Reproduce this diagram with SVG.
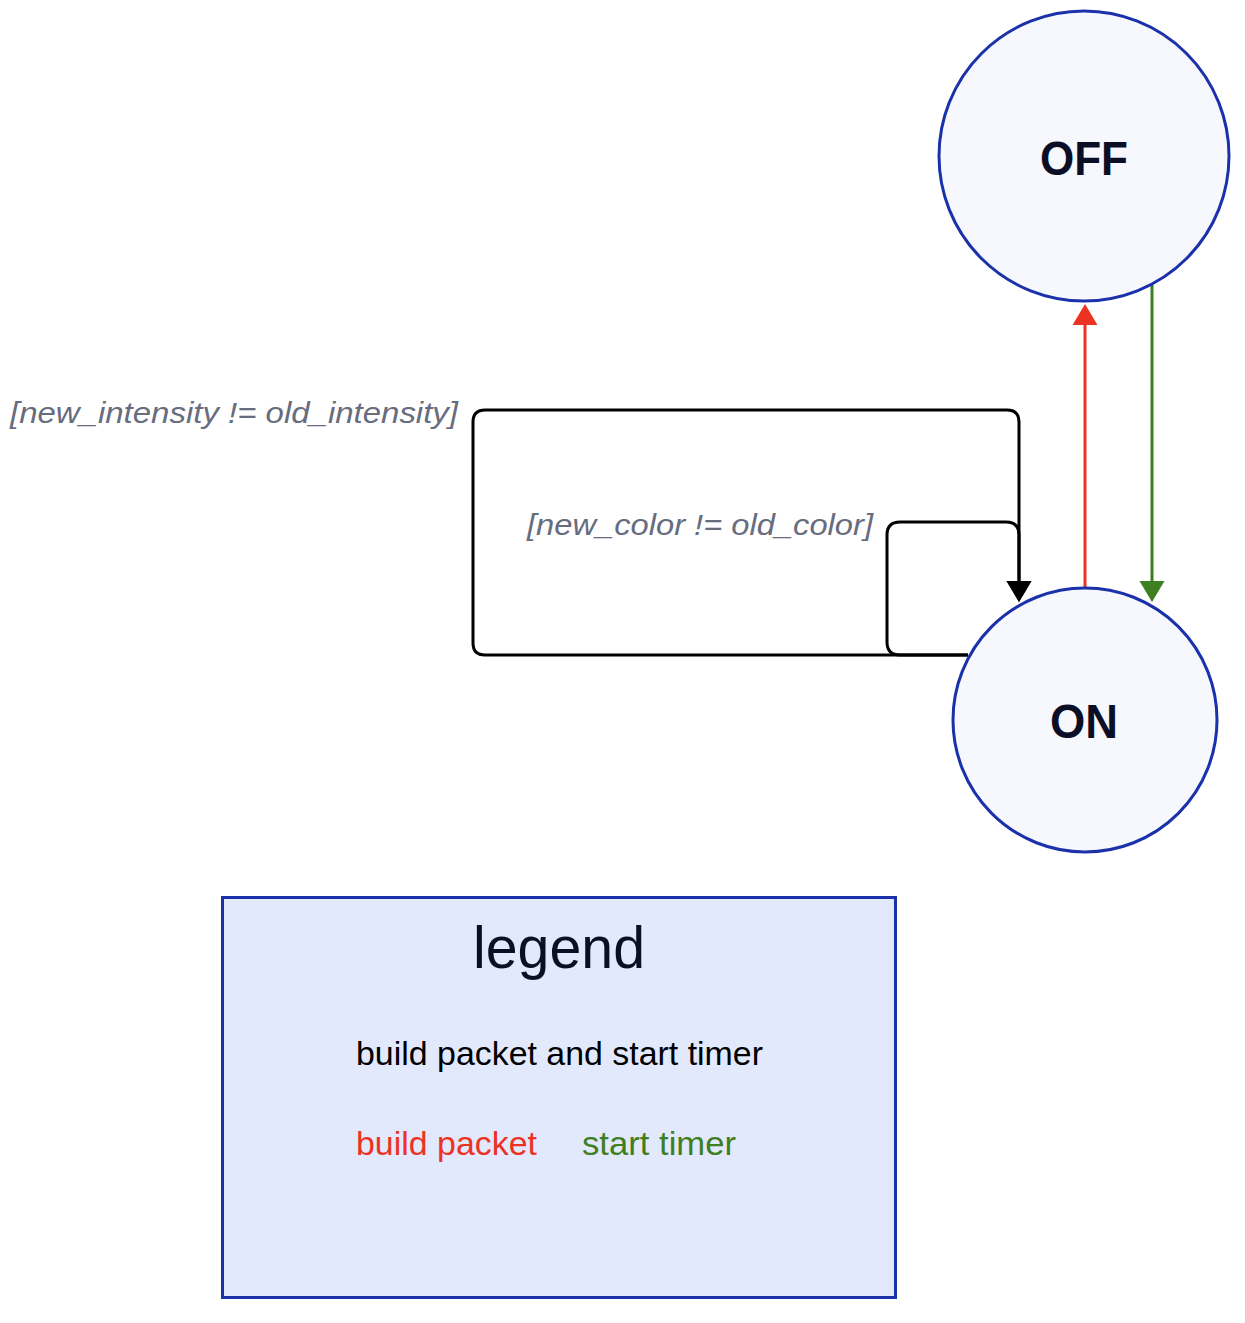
<svg xmlns="http://www.w3.org/2000/svg" width="1245" height="1323" viewBox="0 0 1245 1323">
<style>
.state{fill:#F7F8FE;stroke:#1B31AA;stroke-width:3}
.stext{font-family:"Liberation Sans",Arial,sans-serif;font-weight:bold;fill:#0A0F25;text-anchor:middle}
.lbl{font-family:"Liberation Sans",Arial,sans-serif;font-style:italic;fill:#676C7E}
.conn{fill:none;stroke-width:3}
.ltext{font-family:"Liberation Sans",Arial,sans-serif}
</style>
<defs>
<marker id="ab" markerUnits="userSpaceOnUse" markerWidth="22" markerHeight="26" refX="1" refY="12.5" orient="auto" viewBox="0 0 22 26"><path d="M0,0 L21,12.5 L0,25 z" fill="#000"/></marker>
<marker id="ar" markerUnits="userSpaceOnUse" markerWidth="22" markerHeight="26" refX="1" refY="12.5" orient="auto" viewBox="0 0 22 26"><path d="M0,0 L21,12.5 L0,25 z" fill="#EC3323"/></marker>
<marker id="ag" markerUnits="userSpaceOnUse" markerWidth="22" markerHeight="26" refX="1" refY="12.5" orient="auto" viewBox="0 0 22 26"><path d="M0,0 L21,12.5 L0,25 z" fill="#3E7F22"/></marker>
</defs>
<rect width="1245" height="1323" fill="#FFFFFF"/>
<g id="legend">
<rect x="222.5" y="897.5" width="673" height="400" fill="#E3E9FD" stroke="#1B31AA" stroke-width="3"/>
<text class="ltext" x="559" y="968" font-size="60" fill="#0A0F25" text-anchor="middle" textLength="172" lengthAdjust="spacingAndGlyphs">legend</text>
<text class="ltext" x="356" y="1065" font-size="33" fill="#000000" textLength="407" lengthAdjust="spacingAndGlyphs">build packet and start timer</text>
<text class="ltext" x="356" y="1155" font-size="33" fill="#EC3323" textLength="181" lengthAdjust="spacingAndGlyphs">build packet</text>
<text class="ltext" x="582" y="1155" font-size="33" fill="#3E7F22" textLength="154" lengthAdjust="spacingAndGlyphs">start timer</text>
</g>
<g id="connectors">
<path class="conn" stroke="#000" d="M968,655 L485,655 Q473,655 473,643 L473,422 Q473,410 485,410 L1007,410 Q1019,410 1019,422 L1019,582" marker-end="url(#ab)"/>
<path class="conn" stroke="#000" d="M968,655 L900,655 Q887,655 887,642 L887,535 Q887,522 900,522 L1006,522 Q1019,522 1019,535 L1019,582" marker-end="url(#ab)"/>
<path class="conn" stroke="#EC3323" d="M1085,588 L1085,324" marker-end="url(#ar)"/>
<path class="conn" stroke="#3E7F22" d="M1152,285 L1152,582" marker-end="url(#ag)"/>
<text class="lbl" x="10" y="423" font-size="29" textLength="448" lengthAdjust="spacingAndGlyphs">[new_intensity != old_intensity]</text>
<text class="lbl" x="527" y="535" font-size="29" textLength="346" lengthAdjust="spacingAndGlyphs">[new_color != old_color]</text>
</g>
<g id="OFF">
<circle class="state" cx="1084" cy="156" r="145"/>
<text class="stext" x="1084" y="175" font-size="49" textLength="88" lengthAdjust="spacingAndGlyphs">OFF</text>
</g>
<g id="ON">
<circle class="state" cx="1085" cy="720" r="132"/>
<text class="stext" x="1084" y="738" font-size="49" textLength="68" lengthAdjust="spacingAndGlyphs">ON</text>
</g>
</svg>
